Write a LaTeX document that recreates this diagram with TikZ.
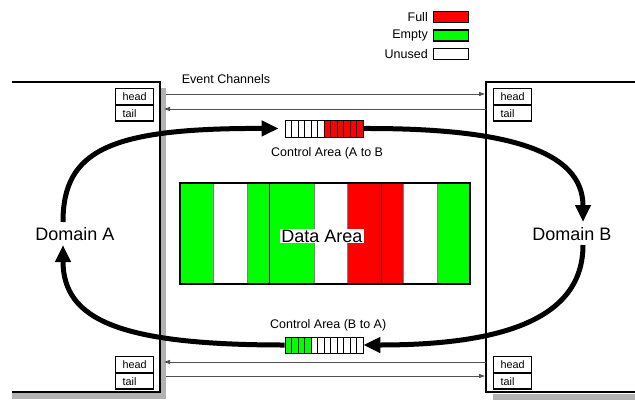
\documentclass[tikz,border=0pt]{standalone}
\usepackage{fontspec}
\setmainfont{Liberation Sans}
\usetikzlibrary{arrows.meta}
\definecolor{fullred}{RGB}{255,0,0}
\definecolor{emptygreen}{RGB}{0,255,0}
\definecolor{shadowgray}{RGB}{178,178,178}
\definecolor{chanline}{RGB}{80,80,80}

\begin{document}
\begin{tikzpicture}[x=1pt,y=-1pt,
    lbl/.style={font=\fontsize{12.5}{14}\selectfont, inner sep=0pt},
    biglbl/.style={font=\fontsize{18}{20}\selectfont, inner sep=1pt},
    ptr/.style={draw, line width=1.3pt, minimum height=15.5pt, text width=24pt, inner xsep=7pt, inner ysep=0pt, align=left, font=\fontsize{10.8}{12}\selectfont, anchor=north west},
    keybox/.style={draw, line width=1.3pt, minimum width=35pt, minimum height=11pt, inner sep=0pt, anchor=west},
    ctlbox/.style={draw, line width=0.8pt, minimum width=78pt, minimum height=17pt, inner sep=0pt},
    chan/.style={chanline, line width=1pt, -{Triangle[length=6pt,width=4pt]}},
    flow/.style={line width=5pt, -{Triangle[length=17pt,width=15pt]}}]
      \useasboundingbox (0,0) rectangle (635,400);
      % legend
      \foreach \name/\col/\yy in {Full/fullred/17, Empty/emptygreen/35.5, Unused/white/54} {
        \node[lbl, anchor=east] (key\name) at (428,\yy) {\name};
        \node[keybox, fill=\col] (box\name) at (433,\yy) {};
      }
      % domain boxes with shadows
      \fill[shadowgray] (161,88) rectangle (166,399);
      \fill[shadowgray] (12,393) rectangle (166,399);
      \draw[line width=1.5pt] (12,82) -- (160,82) -- (160,392) -- (12,392);
      \fill[shadowgray] (493,394) rectangle (635,400);
      \draw[line width=1.5pt] (635,82) -- (486,82) -- (486,392) -- (635,392);
      \node[biglbl] (domA) at (75,234) {Domain A};
      \node[biglbl] (domB) at (572,234) {Domain B};
      % head / tail pointers
      \foreach \side/\xx in {A/115, B/493} {
        \node[ptr] (headT\side) at (\xx,88) {head};
        \node[ptr] (tailT\side) at (headT\side.south west) {tail};
        \node[ptr] (headB\side) at (\xx,356) {head};
        \node[ptr] (tailB\side) at (headB\side.south west) {tail};
      }
      % event channels
      \node[lbl] (evch) at (226,79) {Event Channels};
      \coordinate (chA1) at (166,94);  \coordinate (chB1) at (485,94);
      \coordinate (chA2) at (164,109); \coordinate (chB2) at (486,109);
      \coordinate (chA3) at (164,362); \coordinate (chB3) at (486,362);
      \coordinate (chA4) at (166,376); \coordinate (chB4) at (485,376);
      \draw[chan] (chA1) -- (chB1);
      \draw[chan] (chB2) -- (chA2);
      \draw[chan] (chB3) -- (chA3);
      \draw[chan] (chA4) -- (chB4);
      % data area
      \foreach \xa/\xb/\col in {180/213/emptygreen, 213/247/white, 247/269/emptygreen, 269/314/emptygreen, 314/347/white, 347/381/fullred, 381/403/fullred, 403/437/white, 437/470/emptygreen} {
        \filldraw[fill=\col, draw=gray, line width=0.8pt] (\xa,183) rectangle (\xb,284);
      }
      \draw[line width=0.8pt] (269,183) -- (269,284);
      \draw[red!50!black, line width=0.8pt] (381,183) -- (381,284);
      \draw[line width=2pt] (180,183) rectangle (470,284);
      \node[biglbl, fill=white] (data) at (322,236) {Data Area};
      % control areas
      \foreach \i in {0,...,5} { \draw[fill=white, line width=0.6pt] ({285+6.5*\i},120) rectangle +(6.5,17); }
      \foreach \i in {6,...,11} { \draw[fill=fullred, line width=0.6pt] ({285+6.5*\i},120) rectangle +(6.5,17); }
      \node[ctlbox] (ctlAB) at (324,128.5) {};
      \node[lbl, anchor=west] (ctlABlbl) at (271,153) {Control Area (A to B};
      \foreach \i in {0,...,3} { \draw[fill=emptygreen, line width=0.6pt] ({285+6.5*\i},337) rectangle +(6.5,16); }
      \foreach \i in {4,...,11} { \draw[fill=white, line width=0.6pt] ({285+6.5*\i},337) rectangle +(6.5,16); }
      \node[ctlbox, minimum height=16pt] (ctlBA) at (324,345) {};
      \node[lbl, anchor=west] (ctlBAlbl) at (270,325) {Control Area (B to A)};
      % ring of flow arrows
      \coordinate (aTop) at (63,222); \coordinate (aBot) at (63,245);
      \coordinate (bTop) at (583,222); \coordinate (bBot) at (583,245);
      \draw[flow, shorten >=6pt] (aTop) .. controls (63,150) and (110,128) .. (ctlAB.west);
      \draw[flow] (ctlAB.east) .. controls (505,128) and (583,150) .. (bTop);
      \draw[flow] (bBot) .. controls (583,320) and (500,345) .. (ctlBA.east);
      \draw[flow] (ctlBA.west) .. controls (120,345) and (63,320) .. (aBot);
    \end{tikzpicture}
\end{document}
